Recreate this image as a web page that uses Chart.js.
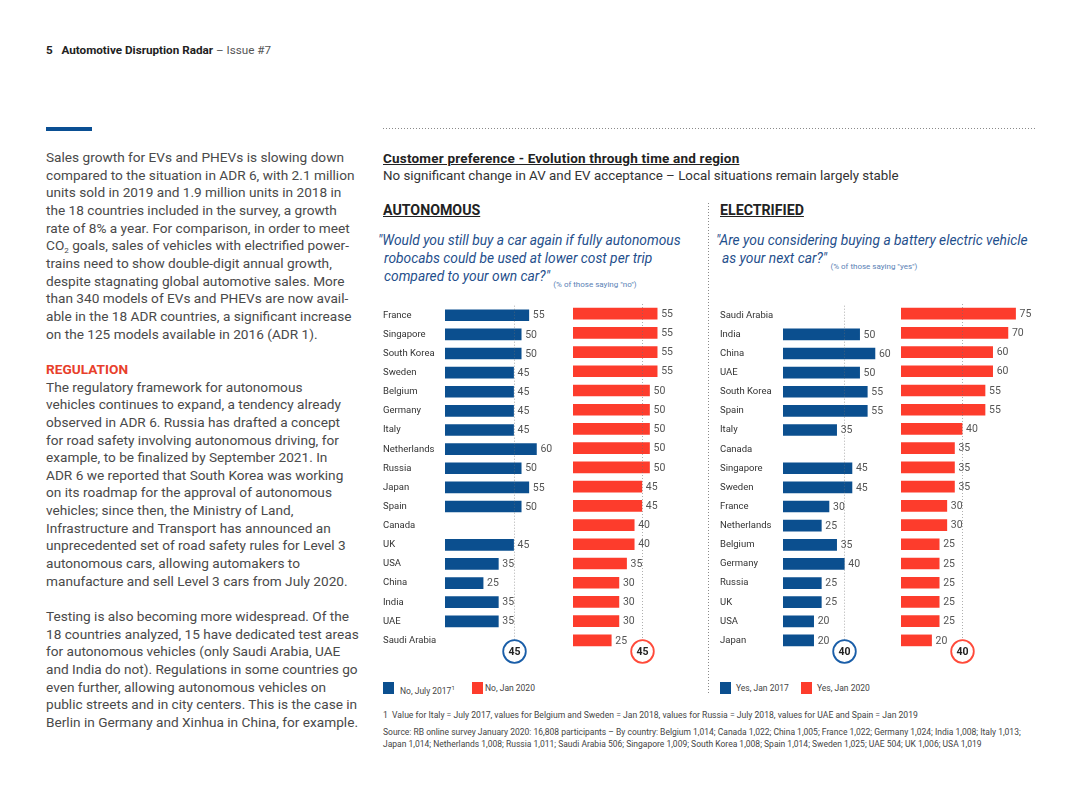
<!DOCTYPE html>
<html lang="en">
<head>
<meta charset="UTF-8" />
<title>Customer preference - Evolution through time and region</title>
<script src="https://cdn.jsdelivr.net/npm/chart.js"></script>
<style>
  body { margin: 0; width: 1080px; height: 810px; position: relative; overflow: hidden; background: #fff; font-family: Roboto, sans-serif; color: #4a4a4a; }
  .abs { position: absolute; white-space: nowrap; }
  .dots-h { height: 1px; background: repeating-linear-gradient(to right, #8a8a8a 0 1px, transparent 1px 3px); }
  .dots-v { width: 1px; background: repeating-linear-gradient(to bottom, #8a8a8a 0 1px, transparent 1px 3px); }
  .body-text { font-size: 13.65px; line-height: 17.65px; color: #4a4a4a; }
  .body-text sub { font-size: 8px; line-height: 0; vertical-align: -3px; }
  .red-head { color: #e8402b; font-weight: 700; }
  .q { font-style: italic; font-size: 13.8px; line-height: 18px; color: #1f4f8c; }
  .note { font-style: normal; font-size: 8px; color: #5a7fb5; }
  .sq { width: 11px; height: 12px; }
  .leg { font-size: 8.5px; line-height: 12px; color: #444; }
  .foot { font-size: 8.6px; line-height: 12px; color: #444; }
</style>
</head>
<body>
  <div class="abs" style="left:46px; top:43px; font-size:11.7px; line-height:14px; color:#222;"><b>5&nbsp;&nbsp;&nbsp;Automotive Disruption Radar</b><span style="color:#555;"> – Issue #7</span></div>
  <div class="abs" style="left:46px; top:127px; width:46px; height:4px; background:#0a4f93;"></div>
  <div class="abs dots-h" style="left:383px; top:128px; width:652px;"></div>

  <div class="abs body-text" style="left:46px; top:149px;">
    Sales growth for EVs and PHEVs is slowing down<br>
    compared to the situation in ADR 6, with 2.1 million<br>
    units sold in 2019 and 1.9 million units in 2018 in<br>
    the 18 countries included in the survey, a growth<br>
    rate of 8% a year. For comparison, in order to meet<br>
    CO<sub>2</sub> goals, sales of vehicles with electrified power-<br>
    trains need to show double-digit annual growth,<br>
    despite stagnating global automotive sales. More<br>
    than 340 models of EVs and PHEVs are now avail-<br>
    able in the 18 ADR countries, a significant increase<br>
    on the 125 models available in 2016 (ADR 1).<br>
    <br>
    <span class="red-head">REGULATION</span><br>
    The regulatory framework for autonomous<br>
    vehicles continues to expand, a tendency already<br>
    observed in ADR 6. Russia has drafted a concept<br>
    for road safety involving autonomous driving, for<br>
    example, to be finalized by September 2021. In<br>
    ADR 6 we reported that South Korea was working<br>
    on its roadmap for the approval of autonomous<br>
    vehicles; since then, the Ministry of Land,<br>
    Infrastructure and Transport has announced an<br>
    unprecedented set of road safety rules for Level 3<br>
    autonomous cars, allowing automakers to<br>
    manufacture and sell Level 3 cars from July 2020.<br>
    <br>
    Testing is also becoming more widespread. Of the<br>
    18 countries analyzed, 15 have dedicated test areas<br>
    for autonomous vehicles (only Saudi Arabia, UAE<br>
    and India do not). Regulations in some countries go<br>
    even further, allowing autonomous vehicles on<br>
    public streets and in city centers. This is the case in<br>
    Berlin in Germany and Xinhua in China, for example.
  </div>

  <div class="abs" style="left:383px; top:150px; font-size:13.5px; letter-spacing:0.2px; line-height:16px; font-weight:700; color:#222; text-decoration:underline;">Customer preference - Evolution through time and region</div>
  <div class="abs" style="left:383px; top:168px; font-size:13.35px; line-height:16px; color:#333;">No significant change in AV and EV acceptance – Local situations remain largely stable</div>

  <div class="abs" style="left:383px; top:202px; font-size:14.2px; line-height:16px; font-weight:700; color:#222; text-decoration:underline;">AUTONOMOUS</div>
  <div class="abs" style="left:720px; top:202px; font-size:14.2px; line-height:16px; font-weight:700; color:#222; text-decoration:underline;">ELECTRIFIED</div>
  <div class="abs dots-v" style="left:708px; top:203px; height:492px;"></div>

  <div class="abs q" style="left:378px; top:231px;">"Would you still buy a car again if fully autonomous<br>
    <span style="padding-left:6px;">robocabs could be used at lower cost per trip</span><br>
    <span style="padding-left:6px;">compared to your own car?"</span> <span class="note" style="vertical-align:-6px;">(% of those saying "no")</span></div>
  <div class="abs q" style="left:716px; top:231px;">"Are you considering buying a battery electric vehicle<br>
    <span style="padding-left:6px;">as your next car?"</span> <span class="note" style="vertical-align:-6px;">(% of those saying "yes")</span></div>

  <div class="abs" style="left:383px; top:300px;"><canvas id="avOld" width="190" height="366"></canvas></div>
  <div class="abs" style="left:573px; top:300px;"><canvas id="avNew" width="127" height="366"></canvas></div>
  <div class="abs" style="left:720px; top:300px;"><canvas id="evOld" width="181" height="366"></canvas></div>
  <div class="abs" style="left:901px; top:300px;"><canvas id="evNew" width="139" height="366"></canvas></div>

  <div class="abs sq" style="left:383px; top:682px; background:#0b4f8f;"></div>
  <div class="abs leg" style="left:400px; top:682px;">No, July 2017<sup style="font-size:6px;">1</sup></div>
  <div class="abs sq" style="left:472px; top:682px; background:#fd3c2c;"></div>
  <div class="abs leg" style="left:485px; top:682px;">No, Jan 2020</div>
  <div class="abs sq" style="left:720px; top:682px; background:#0b4f8f;"></div>
  <div class="abs leg" style="left:736px; top:682px;">Yes, Jan 2017</div>
  <div class="abs sq" style="left:801px; top:682px; background:#fd3c2c;"></div>
  <div class="abs leg" style="left:817px; top:682px;">Yes, Jan 2020</div>

  <div class="abs foot" style="left:383px; top:709px;">1&nbsp; Value for Italy = July 2017, values for Belgium and Sweden = Jan 2018, values for Russia = July 2018, values for UAE and Spain = Jan 2019</div>
  <div class="abs foot" style="left:383px; top:726px; font-size:8.5px;">Source: RB online survey January 2020: 16,808 participants – By country: Belgium 1,014; Canada 1,022; China 1,005; France 1,022; Germany 1,024; India 1,008; Italy 1,013;<br>Japan 1,014; Netherlands 1,008; Russia 1,011; Saudi Arabia 506; Singapore 1,009; South Korea 1,008; Spain 1,014; Sweden 1,025; UAE 504; UK 1,006; USA 1,019</div>

<script>
  // Autonomous: % saying "no"
  const avCountries = ["France", "Singapore", "South Korea", "Sweden", "Belgium", "Germany", "Italy", "Netherlands", "Russia",
    "Japan", "Spain", "Canada", "UK", "USA", "China", "India", "UAE", "Saudi Arabia"];
  const avJul2017 = [55, 50, 50, 45, 45, 45, 45, 60, 50, 55, 50, null, 45, 35, 25, 35, 35, null];
  const avJan2020 = [55, 55, 55, 55, 50, 50, 50, 50, 50, 45, 45, 40, 40, 35, 30, 30, 30, 25];
  const avAverages = [45, 45];

  // Electrified: % saying "yes"
  const evCountries = ["Saudi Arabia", "India", "China", "UAE", "South Korea", "Spain", "Italy", "Canada", "Singapore",
    "Sweden", "France", "Netherlands", "Belgium", "Germany", "Russia", "UK", "USA", "Japan"];
  const evJan2017 = [null, 50, 60, 50, 55, 55, 35, null, 45, 45, 30, 25, 35, 40, 25, 25, 20, 20];
  const evJan2020 = [75, 70, 60, 60, 55, 55, 40, 35, 35, 35, 30, 30, 25, 25, 25, 25, 25, 20];
  const evAverages = [40, 40];

  const BLUE = "#0b4f8f";
  const RED = "#fd3c2c";

  // number after each bar
  const barValues = {
    id: "barValues",
    afterDatasetsDraw(chart) {
      const ctx = chart.ctx;
      const values = chart.data.datasets[0].data;
      ctx.save();
      ctx.font = "10.5px Roboto";
      ctx.fillStyle = "#555";
      ctx.textAlign = "left";
      ctx.textBaseline = "middle";
      chart.getDatasetMeta(0).data.forEach((bar, i) => {
        if (values[i] == null) return;
        ctx.fillText(values[i], bar.x + 4, bar.y + 0.5);
      });
      ctx.restore();
    },
  };

  // dotted average line with the circled value underneath
  const meanMarker = {
    id: "meanMarker",
    afterDatasetsDraw(chart, args, opts) {
      const ctx = chart.ctx;
      const area = chart.chartArea;
      const x = Math.round(chart.scales.x.getPixelForValue(opts.value)) + 0.5;
      const cy = area.bottom + 1.5;
      const r = 11.3;
      ctx.save();
      ctx.strokeStyle = "rgba(110,110,110,0.55)";
      ctx.lineWidth = 1;
      ctx.setLineDash([1, 2]);
      ctx.beginPath();
      ctx.moveTo(x, area.top);
      ctx.lineTo(x, cy - r);
      ctx.stroke();
      ctx.setLineDash([]);
      ctx.beginPath();
      ctx.arc(x, cy, r, 0, Math.PI * 2);
      ctx.fillStyle = "#fff";
      ctx.fill();
      ctx.lineWidth = 1.8;
      ctx.strokeStyle = opts.ring;
      ctx.stroke();
      ctx.fillStyle = "#222";
      ctx.font = "bold 10.5px Roboto";
      ctx.textAlign = "center";
      ctx.textBaseline = "middle";
      ctx.fillText(opts.value, x, cy + 0.5);
      ctx.restore();
    },
  };

  function makeChart(id, labels, values, color, ring, mean, labelWidth, max) {
    return new Chart(document.getElementById(id), {
      type: "bar",
      data: {
        labels: labels,
        datasets: [{ data: values, backgroundColor: color, barThickness: 11 }],
      },
      options: {
        indexAxis: "y",
        responsive: false,
        animation: false,
        layout: { padding: { top: 4, bottom: 16, left: 0, right: 0 } },
        scales: {
          x: { display: false, min: 0, max: max },
          y: {
            display: labelWidth > 0,
            grid: { display: false },
            border: { display: false },
            ticks: {
              autoSkip: false,
              crossAlign: "far",
              padding: 0,
              color: "#333",
              font: { family: "Roboto", size: 9.5 },
            },
            afterFit(scale) {
              scale.width = labelWidth;
            },
          },
        },
        plugins: {
          legend: { display: false },
          tooltip: { enabled: false },
          meanMarker: { value: mean, ring: ring },
        },
      },
      plugins: [meanMarker, barValues],
    });
  }

  makeChart("avOld", avCountries, avJul2017, BLUE, "#1a5ea8", avAverages[0], 62, 84);
  makeChart("avNew", avCountries, avJan2020, RED, "#ff4a3a", avAverages[1], 0, 83);
  makeChart("evOld", evCountries, evJan2017, BLUE, "#1a5ea8", evAverages[0], 63, 77);
  makeChart("evNew", evCountries, evJan2020, RED, "#ff4a3a", evAverages[1], 0, 91);
</script>
</body>
</html>
